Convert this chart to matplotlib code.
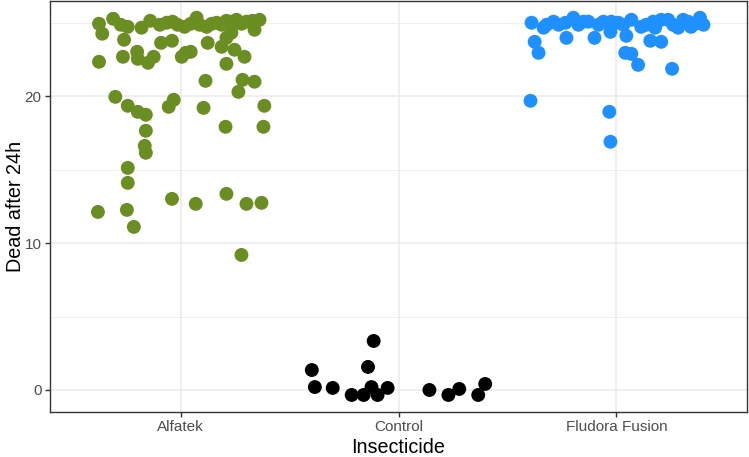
import matplotlib
matplotlib.use("Agg")
import matplotlib.pyplot as plt
import numpy as np

categories = ["Alfatek", "Control", "Fludora Fusion"]
colors = ["#6B8E23", "#000000", "#1E90FF"]

# Horizontal jitter offsets (category units) and dead counts per group
alfatek_jit = [-0.375, -0.36, -0.31, -0.275, -0.243, -0.18, -0.14, -0.096, -0.064, -0.037,
               -0.014, 0.018, 0.046, 0.073, 0.087, 0.119, 0.142, 0.165, 0.188, 0.21,
               0.233, 0.256, 0.279, 0.302, 0.33, 0.362, 0.339,
               -0.26, -0.09, -0.04, 0.124, 0.188, 0.21, 0.233, 0.247, 0.293, 0.21,
               -0.375, -0.265, -0.20, -0.197, -0.15, -0.124, 0.005, 0.023, 0.046,
               0.114, 0.284, 0.339, 0.265,
               -0.30, -0.243, -0.197, -0.16, -0.055, -0.032, 0.105, 0.384, 0.206, 0.38,
               -0.16, -0.165, -0.16, -0.243, -0.243, -0.38, -0.247, -0.215, -0.04, 0.069,
               0.21, 0.302, 0.371, 0.279]
alfatek_dead = [24.95, 24.27, 25.29, 24.88, 24.74, 24.68, 25.15, 24.88, 25.02, 25.09,
                24.88, 24.74, 24.95, 25.36, 24.88, 24.74, 24.95, 25.02, 24.88, 25.15,
                25.09, 25.22, 24.95, 25.09, 25.15, 25.22, 24.54,
                23.86, 23.65, 23.79, 23.65, 23.38, 23.99, 24.34, 23.18, 22.70, 22.22,
                22.36, 22.70, 23.04, 22.56, 22.29, 22.70, 22.70, 22.97, 23.04,
                21.06, 21.13, 21.00, 20.31,
                19.97, 19.36, 18.95, 18.75, 19.29, 19.77, 19.22, 19.36, 17.93, 17.93,
                17.66, 16.63, 16.16, 15.13, 14.11, 12.13, 12.27, 11.11, 13.02, 12.68,
                13.36, 12.68, 12.75, 9.20]

control_jit = [-0.398, -0.384, -0.302, -0.215, -0.16, -0.114, -0.14, -0.124, -0.096, -0.05,
               0.142, 0.229, 0.279, 0.366, 0.398]
control_dead = [1.36, 0.20, 0.14, -0.34, -0.34, 3.34, 1.57, 0.20, -0.34, 0.14,
                0.00, -0.34, 0.07, -0.34, 0.41]

fludora_jit = [-0.389, -0.375, -0.357, -0.394, -0.32, -0.288, -0.233, -0.197, -0.229, -0.128,
               -0.10, -0.082, -0.023, -0.027, 0.009, 0.069, 0.046, 0.041, 0.069, 0.10,
               0.114, 0.156, 0.206, 0.178, 0.206, 0.238, 0.256, 0.284, 0.307, 0.343,
               0.384, 0.40, -0.032, -0.027,
               -0.334, -0.265, -0.174, -0.151, -0.059, 0.032, 0.137, 0.169, 0.261, 0.33, 0.362]
fludora_dead = [25.02, 23.72, 22.97, 19.70, 24.88, 25.09, 25.02, 25.36, 23.99, 25.09,
                23.99, 24.88, 25.09, 24.40, 25.02, 25.22, 24.13, 22.97, 22.90, 22.15,
                24.74, 23.79, 23.72, 24.68, 25.22, 25.22, 21.88, 24.68, 25.22, 24.74,
                25.36, 24.88, 18.95, 16.91,
                24.68, 24.88, 24.88, 25.09, 25.09, 24.88, 24.88, 25.09, 24.88, 25.09, 24.95]

groups = [(alfatek_jit, alfatek_dead), (control_jit, control_dead), (fludora_jit, fludora_dead)]

plt.rcParams['font.family'] = ['Liberation Sans', 'DejaVu Sans']
fig = plt.figure(figsize=(7.49, 4.57), dpi=100)
W, H = 749, 457
ax = fig.add_axes([50 / W, 1 - 412 / H, 697 / W, 411 / H])

for i, (jit, dead) in enumerate(groups):
    x = (i + 1) + np.asarray(jit)
    ax.scatter(x, dead, s=100, color=colors[i], edgecolors='none', zorder=3)

ax.set_xlim(0.4, 3.6)
ax.set_ylim(-1.5, 26.5)
ax.set_xticks([1, 2, 3])
ax.set_xticklabels(categories)
ax.set_yticks([0, 10, 20])
ax.set_yticks([5, 15, 25], minor=True)
ax.grid(True, which='major', color='#EBEBEB', linewidth=1.1, zorder=0)
ax.grid(True, which='minor', axis='y', color='#EBEBEB', linewidth=0.55, zorder=0)
ax.set_axisbelow(True)
for sp in ax.spines.values():
    sp.set_color('#333333')
    sp.set_linewidth(1.0)
ax.tick_params(which='major', length=3.6, width=1.0, color='#333333', labelcolor='#4D4D4D',
               labelsize=11, pad=2.5)
ax.tick_params(which='minor', length=0)
ax.set_xlabel("Insecticide", fontsize=14.2, color='black')
ax.set_ylabel("Dead after 24h", fontsize=14.2, color='black')
ax.xaxis.set_label_coords(0.5, -0.086)
ax.xaxis.label.set_va('center')
ax.yaxis.set_label_coords(-0.05, 0.5)
ax.yaxis.label.set_va('center')

fig.savefig("out.png", dpi=100)
